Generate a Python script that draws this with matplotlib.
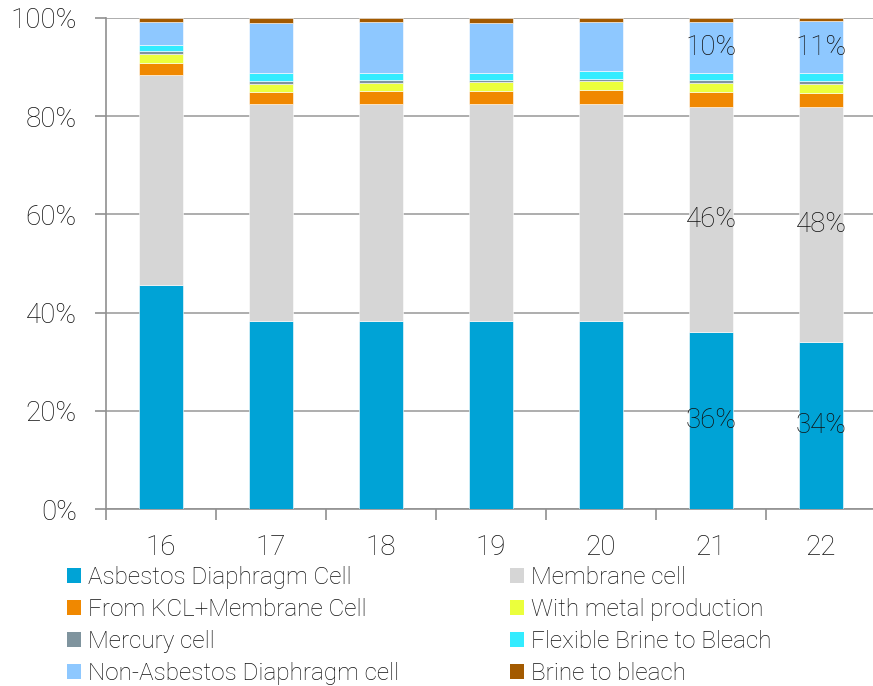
import matplotlib
matplotlib.use("Agg")
import matplotlib.pyplot as plt
import numpy as np
from matplotlib.patches import Patch

categories = ["16", "17", "18", "19", "20", "21", "22"]
asbestos = [45.6, 38.3, 38.2, 38.2, 38.2, 36.0, 34.0]
membrane = [42.8, 44.1, 44.3, 44.3, 44.3, 45.9, 47.9]
kcl_membrane = [2.5, 2.6, 2.6, 2.6, 2.8, 3.0, 2.9]
metal_prod = [1.7, 1.6, 1.6, 1.8, 1.8, 1.8, 1.8]
mercury = [0.6, 0.6, 0.6, 0.5, 0.5, 0.7, 0.6]
flex_brine = [1.4, 1.5, 1.5, 1.4, 1.6, 1.4, 1.5]
non_asbestos = [4.6, 10.3, 10.3, 10.2, 10.0, 10.4, 10.6]
brine_bleach = [0.8, 1.0, 0.9, 1.0, 0.8, 0.8, 0.7]

series_names = ["Asbestos Diaphragm Cell", "Membrane cell", "From KCL+Membrane Cell",
                "With metal production", "Mercury cell", "Flexible Brine to Bleach",
                "Non-Asbestos Diaphragm cell", "Brine to bleach"]
series_values = [asbestos, membrane, kcl_membrane, metal_prod, mercury,
                 flex_brine, non_asbestos, brine_bleach]
colors = ["#00A3D6", "#D6D6D6", "#F08800", "#EBFF3C", "#7F949E",
          "#33ECFF", "#8EC8FF", "#A35A00"]
labeled_series = [0, 1, 6]
labeled_bars = [5, 6]

TXT = '#111111'
plt.rcParams['font.family'] = ['Roboto', 'DejaVu Sans']

fig = plt.figure(figsize=(8.73, 6.86), dpi=100)
ax = fig.add_axes([106/873, 1-509/686, 770/873, (509-18)/686])

x = np.arange(len(categories))
bottom = np.zeros(len(categories))
for vals, col in zip(series_values, colors):
    ax.bar(x, vals, width=0.4, bottom=bottom, color=col, edgecolor='white',
           linewidth=0.4, zorder=3)
    bottom += np.array(vals)

# data labels
cum = np.cumsum(np.array(series_values), axis=0)
for si in labeled_series:
    for bi in labeled_bars:
        v = series_values[si][bi]
        base = cum[si][bi] - v
        ax.text(x[bi], base + v/2, f"{round(v):.0f}%", ha='center', va='center',
                fontsize=20, color=TXT, fontweight='light', zorder=5)

ax.set_ylim(0, 100)
ax.set_xlim(-0.5, len(categories) - 0.5)
ax.set_yticks(np.arange(0, 101, 20))
ax.set_yticklabels([f"{v}%" for v in range(0, 101, 20)])
ax.yaxis.grid(True, color='#A0A0A0', linewidth=1.2, zorder=0)
ax.set_axisbelow(True)
ax.set_xticks(x)
ax.set_xticklabels(categories)
ax.set_xticks(np.arange(-0.5, len(categories), 1), minor=True)
ax.tick_params(axis='x', which='major', length=0, pad=18, labelsize=20, labelcolor=TXT)
ax.tick_params(axis='x', which='minor', length=8, width=1.2, color='#909090', direction='out')
ax.tick_params(axis='y', length=8, width=1.2, color='#909090', pad=13, labelsize=20, labelcolor=TXT)
for lab in ax.get_xticklabels() + ax.get_yticklabels():
    lab.set_fontweight('light')
for s in ['top', 'right']:
    ax.spines[s].set_visible(False)
for s in ['left', 'bottom']:
    ax.spines[s].set_color('#909090')
    ax.spines[s].set_linewidth(1.2)

handles = [Patch(facecolor=c, edgecolor='none') for c in colors]
order = [0, 2, 4, 6, 1, 3, 5, 7]
leg = fig.legend([handles[i] for i in order], [series_names[i] for i in order],
                 ncol=2, loc='upper left', bbox_to_anchor=(67/873, 1-566/686),
                 frameon=False, handlelength=0.58, handleheight=0.58,
                 handletextpad=0.3, columnspacing=4.53, labelspacing=0.37,
                 borderpad=0, borderaxespad=0,
                 prop={'weight': 'light', 'size': 17.5})
for t in leg.get_texts():
    t.set_color(TXT)

fig.savefig("out.png", dpi=100)
